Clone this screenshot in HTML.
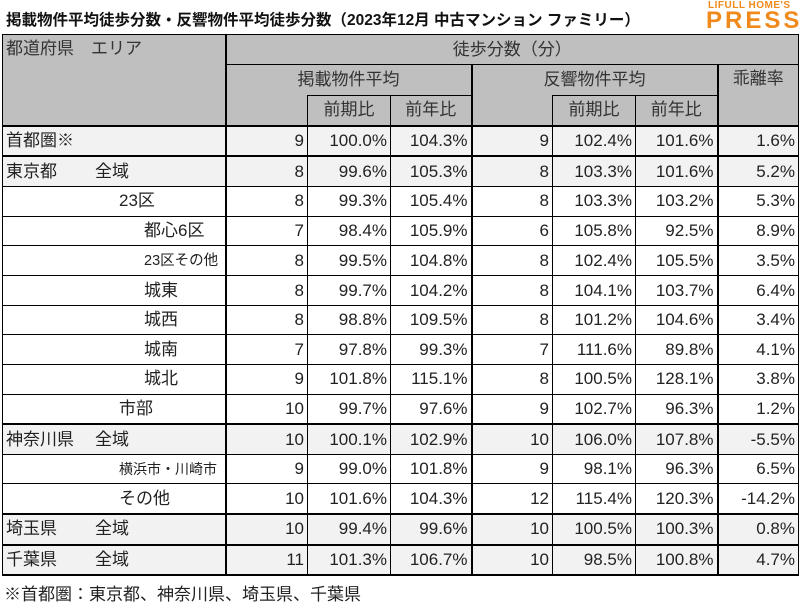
<!DOCTYPE html>
<html><head><meta charset="utf-8"><style>
body{margin:0;width:800px;height:600px;background:#fff;position:relative;overflow:hidden;font-family:"Liberation Sans","Noto Sans CJK JP",sans-serif;color:#222}
.title{position:absolute;left:6px;top:8px;font-size:15.5px;font-weight:bold;color:#111;white-space:nowrap}
.logo1{position:absolute;left:708px;top:0px;font-size:10px;font-weight:bold;color:#f08a1c;letter-spacing:0.5px}
.logo2{position:absolute;left:706px;top:9px;font-size:24px;font-weight:900;color:#f08a1c;letter-spacing:3px;line-height:24px}
table{position:absolute;left:2px;top:34px;border-collapse:collapse;table-layout:fixed;font-size:17px}
td{border:1px solid #000;padding:0 3px;white-space:nowrap;overflow:hidden;text-align:right;height:28.6px;line-height:28px}
.h td{background:#bfbfbf;text-align:center;color:#333;height:29.3px}
.g td{background:#f2f2f2}
.tk td{border-top:2px solid #000}
.dt td{border-top:1px dotted #bbb}
td.l{text-align:left;border-right:2px solid #000}
td.c4{border-right:2px solid #000}
td.c7{border-right:2px solid #000}
.foot{position:absolute;left:4px;top:580px;font-size:17px;color:#222}
</style></head><body>
<div class="title">掲載物件平均徒歩分数・反響物件平均徒歩分数（2023年12月 中古マンション ファミリー）</div>
<div class="logo1">LIFULL HOME'S</div>
<div class="logo2">PRESS</div>
<table>
<colgroup><col style="width:223px"><col style="width:82px"><col style="width:83px"><col style="width:81px"><col style="width:81px"><col style="width:83px"><col style="width:82px"><col style="width:81px"></colgroup>
<tr class="h"><td rowspan="3" class="l" style="text-align:left;vertical-align:top;border-bottom:2px solid #000">都道府県　エリア</td><td colspan="7">徒歩分数（分）</td></tr>
<tr class="h"><td colspan="3" class="c4" style="border-bottom:none">掲載物件平均</td><td colspan="3" style="border-bottom:none;border-right:2px solid #000">反響物件平均</td><td rowspan="2" style="vertical-align:top;border-bottom:2px solid #000">乖離率</td></tr>
<tr class="h"><td style="border-top:none;border-bottom:2px solid #000"></td><td style="border-bottom:2px solid #000">前期比</td><td class="c4" style="border-bottom:2px solid #000">前年比</td><td style="border-top:none;border-bottom:2px solid #000"></td><td style="border-bottom:2px solid #000">前期比</td><td class="c7" style="border-bottom:2px solid #000">前年比</td></tr>
<tr class="g"><td class="l">首都圏※</td><td>9</td><td>100.0%</td><td class="c4">104.3%</td><td>9</td><td>102.4%</td><td class="c7">101.6%</td><td>1.6%</td></tr>
<tr class="g tk"><td class="l">東京都<span style="padding-left:38px">全域</span></td><td>8</td><td>99.6%</td><td class="c4">105.3%</td><td>8</td><td>103.3%</td><td class="c7">101.6%</td><td>5.2%</td></tr>
<tr class="dt"><td class="l"><span style="padding-left:113px">23区</span></td><td>8</td><td>99.3%</td><td class="c4">105.4%</td><td>8</td><td>103.3%</td><td class="c7">103.2%</td><td>5.3%</td></tr>
<tr class="dt"><td class="l"><span style="padding-left:138px">都心6区</span></td><td>7</td><td>98.4%</td><td class="c4">105.9%</td><td>6</td><td>105.8%</td><td class="c7">92.5%</td><td>8.9%</td></tr>
<tr class="dt"><td class="l"><span style="padding-left:138px;font-size:14.5px">23区その他</span></td><td>8</td><td>99.5%</td><td class="c4">104.8%</td><td>8</td><td>102.4%</td><td class="c7">105.5%</td><td>3.5%</td></tr>
<tr class="dt"><td class="l"><span style="padding-left:138px">城東</span></td><td>8</td><td>99.7%</td><td class="c4">104.2%</td><td>8</td><td>104.1%</td><td class="c7">103.7%</td><td>6.4%</td></tr>
<tr class="dt"><td class="l"><span style="padding-left:138px">城西</span></td><td>8</td><td>98.8%</td><td class="c4">109.5%</td><td>8</td><td>101.2%</td><td class="c7">104.6%</td><td>3.4%</td></tr>
<tr class="dt"><td class="l"><span style="padding-left:138px">城南</span></td><td>7</td><td>97.8%</td><td class="c4">99.3%</td><td>7</td><td>111.6%</td><td class="c7">89.8%</td><td>4.1%</td></tr>
<tr class="dt"><td class="l"><span style="padding-left:138px">城北</span></td><td>9</td><td>101.8%</td><td class="c4">115.1%</td><td>8</td><td>100.5%</td><td class="c7">128.1%</td><td>3.8%</td></tr>
<tr class="dt"><td class="l"><span style="padding-left:113px">市部</span></td><td>10</td><td>99.7%</td><td class="c4">97.6%</td><td>9</td><td>102.7%</td><td class="c7">96.3%</td><td>1.2%</td></tr>
<tr class="g tk"><td class="l">神奈川県<span style="padding-left:21px">全域</span></td><td>10</td><td>100.1%</td><td class="c4">102.9%</td><td>10</td><td>106.0%</td><td class="c7">107.8%</td><td>-5.5%</td></tr>
<tr class="dt"><td class="l"><span style="padding-left:113px;font-size:14px">横浜市・川崎市</span></td><td>9</td><td>99.0%</td><td class="c4">101.8%</td><td>9</td><td>98.1%</td><td class="c7">96.3%</td><td>6.5%</td></tr>
<tr class="dt"><td class="l"><span style="padding-left:113px">その他</span></td><td>10</td><td>101.6%</td><td class="c4">104.3%</td><td>12</td><td>115.4%</td><td class="c7">120.3%</td><td>-14.2%</td></tr>
<tr class="g tk"><td class="l">埼玉県<span style="padding-left:38px">全域</span></td><td>10</td><td>99.4%</td><td class="c4">99.6%</td><td>10</td><td>100.5%</td><td class="c7">100.3%</td><td>0.8%</td></tr>
<tr class="g tk"><td class="l" style="border-bottom:2px solid #000">千葉県<span style="padding-left:38px">全域</span></td><td style="border-bottom:2px solid #000">11</td><td style="border-bottom:2px solid #000">101.3%</td><td class="c4" style="border-bottom:2px solid #000">106.7%</td><td style="border-bottom:2px solid #000">10</td><td style="border-bottom:2px solid #000">98.5%</td><td class="c7" style="border-bottom:2px solid #000">100.8%</td><td style="border-bottom:2px solid #000">4.7%</td></tr>
</table>
<div class="foot">※首都圏：東京都、神奈川県、埼玉県、千葉県</div>
</body></html>
